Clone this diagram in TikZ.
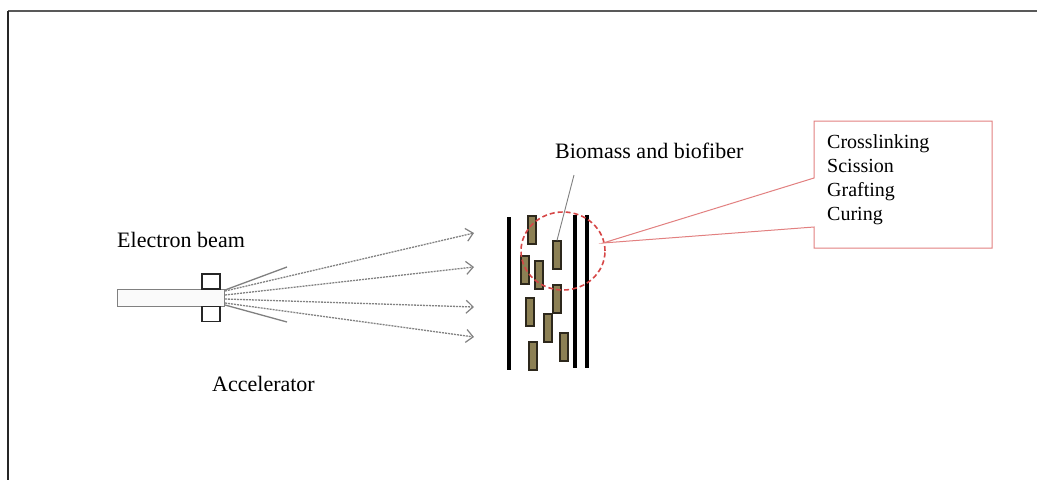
\documentclass[tikz,border=0pt]{standalone}
\usepackage{fontspec}
\setmainfont{Liberation Serif}
\usetikzlibrary{arrows.meta}
\definecolor{fibercol}{RGB}{140,128,84}
\definecolor{fiberedge}{RGB}{45,40,28}
\definecolor{calloutred}{RGB}{226,128,128}
\definecolor{circlered}{RGB}{214,70,70}
\definecolor{beamgray}{RGB}{130,130,130}
\begin{document}
\begin{tikzpicture}[x=1pt,y=-1pt,
  lbl/.style={font=\fontsize{22}{26}\selectfont, inner sep=0pt, anchor=base west},
  boxtxt/.style={font=\fontsize{20}{24}\selectfont, inner sep=0pt, anchor=base west},
  fiber/.style={draw=fiberedge, line width=1.2pt, fill=fibercol, minimum width=8pt, minimum height=28pt, inner sep=0pt},
  plate/.style={line width=4pt, black},
  beam/.style={draw=beamgray, line width=1.3pt, dash pattern=on 2pt off 1pt, -{Straight Barb[length=7pt,width=13pt,line width=1.2pt]}},
  cone/.style={draw=gray, line width=1.3pt},
  magnet/.style={draw=black!85, line width=1.8pt, fill=white, minimum width=18pt, minimum height=15pt, inner sep=0pt},
]
\useasboundingbox (0,0) rectangle (1037,480);
\fill[white] (0,0) rectangle (1037,480);
% frame (top and left)
\draw[line width=2pt, black!65] (8,11) -- (1037,11);
\draw[line width=2.5pt, black!85] (8,11) -- (8,480);

% accelerator
\node[draw=gray, line width=1pt, fill=black!2, minimum width=107pt, minimum height=17pt, inner sep=0pt] (tube) at (170.5,297.5) {};
\node[magnet] (mtop) at (211,281.5) {};
\node[magnet] (mbot) at (211,314) {};

% beam origins and targets
\coordinate (s1) at (225,291);
\coordinate (s2) at (225,295);
\coordinate (s3) at (225,299);
\coordinate (s4) at (225,303);
\coordinate (t1) at (474,233);
\coordinate (t2) at (474,267);
\coordinate (t3) at (474,307);
\coordinate (t4) at (474,337);
\coordinate (c1a) at (225,290);
\coordinate (c1b) at (287,267);
\coordinate (c2a) at (225,305);
\coordinate (c2b) at (287,322);
\draw[cone] (c1a) -- (c1b);
\draw[cone] (c2a) -- (c2b);
\draw[beam] (s1) -- (t1);
\draw[beam] (s2) -- (t2);
\draw[beam] (s3) -- (t3);
\draw[beam] (s4) -- (t4);

\node[lbl] (eb) at (117,247) {Electron beam};
\node[lbl] (acc) at (212,391) {Accelerator};

% plates
\draw[plate] (509,217) -- (509,370);
\draw[plate] (575,215) -- (575,368);
\draw[plate] (587,215) -- (587,368);

% fibers
\node[fiber] (f1) at (532,230) {};
\node[fiber] (f2) at (557,255) {};
\node[fiber] (f3) at (525,270) {};
\node[fiber] (f4) at (539,275) {};
\node[fiber] (f5) at (557,299) {};
\node[fiber] (f6) at (530,312) {};
\node[fiber] (f7) at (548,328) {};
\node[fiber] (f8) at (564,347) {};
\node[fiber] (f9) at (533,356) {};

% dashed zoom circle
\draw[circlered, line width=1.6pt, dash pattern=on 5pt off 3pt] (563,251) ellipse [x radius=42pt, y radius=39pt];

% label and pointer
\node[lbl] (bio) at (555,158) {Biomass and biofiber};
\coordinate (bp) at (574,175);
\draw[gray, line width=0.9pt] (bp) -- (f2.north);

% callout
\coordinate (tip) at (603,243);
\draw[calloutred, line width=1pt] (814,121) -- (992,121) -- (992,248) -- (814,248) -- (814,227) -- (tip) -- (814,178) -- cycle;
\node[boxtxt] (x1) at (827,148) {Crosslinking};
\node[boxtxt] (x2) at (827,172) {Scission};
\node[boxtxt] (x3) at (827,196) {Grafting};
\node[boxtxt] (x4) at (827,220) {Curing};
\end{tikzpicture}
\end{document}
